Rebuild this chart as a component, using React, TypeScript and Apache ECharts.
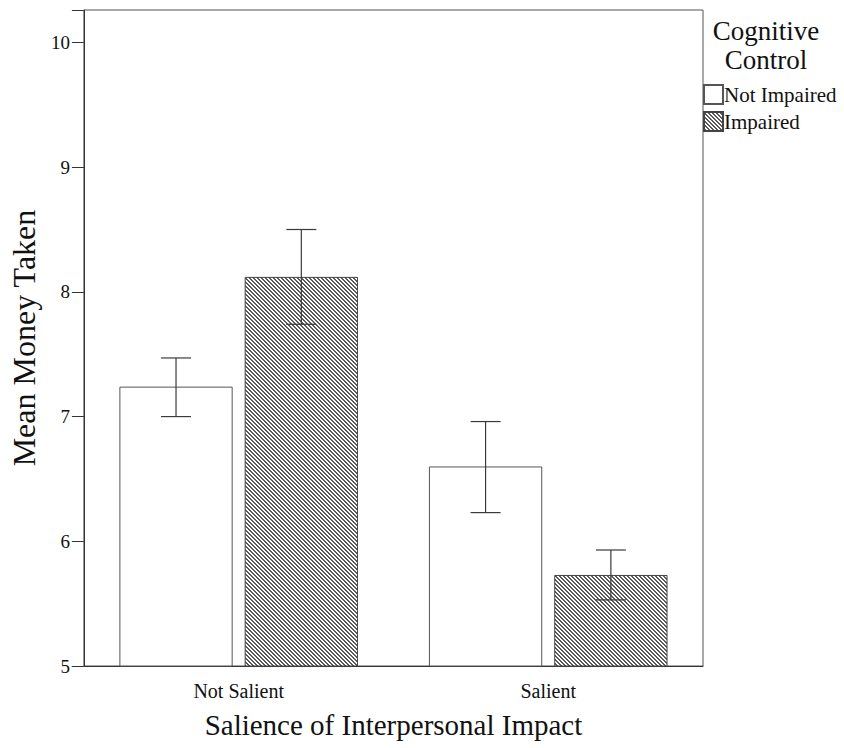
import React, { useEffect, useRef } from "react";
import * as echarts from "echarts";

const categories = ["Not Salient", "Salient"];
const seriesNames = ["Not Impaired", "Impaired"];
const meanNotImpaired = [7.24, 6.6];
const meanImpaired = [8.12, 5.73];
const ciNotImpaired = [
  [7.0, 7.47],
  [6.23, 6.96],
];
const ciImpaired = [
  [7.74, 8.5],
  [5.53, 5.93],
];
const yTicks = [5, 6, 7, 8, 9, 10];

const FONT = "Liberation Serif";
const BAR_W = 0.366;
const BAR_GAP = 0.106;

function makeHatch(): HTMLCanvasElement {
  const c = document.createElement("canvas");
  c.width = 4;
  c.height = 4;
  const ctx = c.getContext("2d")!;
  ctx.fillStyle = "#ffffff";
  ctx.fillRect(0, 0, 4, 4);
  ctx.fillStyle = "#5a5a5a";
  for (let i = 0; i < 4; i++) {
    ctx.fillRect(i, i, 1, 1);
    ctx.fillRect(i, (i + 1) % 4, 1, 1);
  }
  return c;
}

export default function App() {
  const ref = useRef<HTMLDivElement>(null);
  useEffect(() => {
    document.body.style.margin = "0";
    const chart = echarts.init(ref.current!, undefined, { renderer: "svg" });
    const hatch = makeHatch();
    const errRender = (seriesIdx: number) => (params: any, api: any) => {
      const cat = api.value(0);
      const lo = api.coord([cat, api.value(1)]);
      const hi = api.coord([cat, api.value(2)]);
      const catW = api.size([1, 0])[0];
      const bw = catW * BAR_W;
      const off = (bw + bw * BAR_GAP) / 2;
      const x = lo[0] + (seriesIdx === 0 ? -off : off);
      const cap = 15;
      const style = { stroke: "#3a3a3a", lineWidth: 1.2 };
      return {
        type: "group",
        children: [
          { type: "line", shape: { x1: x, y1: lo[1], x2: x, y2: hi[1] }, style },
          { type: "line", shape: { x1: x - cap, y1: lo[1], x2: x + cap, y2: lo[1] }, style },
          { type: "line", shape: { x1: x - cap, y1: hi[1], x2: x + cap, y2: hi[1] }, style },
        ],
      };
    };
    chart.setOption({
      animation: false,
      textStyle: { fontFamily: FONT },
      title: {
        text: "Cognitive\nControl",
        left: 761,
        top: 11,
        textAlign: "center",
        textStyle: { fontFamily: FONT, fontSize: 27, fontWeight: "normal", color: "#111", lineHeight: 29 },
      },
      legend: {
        orient: "vertical",
        left: 703,
        top: 84,
        padding: 0,
        icon: "rect",
        itemWidth: 19,
        itemHeight: 19,
        itemGap: 6,
        data: seriesNames,
        textStyle: { fontFamily: FONT, fontSize: 21, color: "#111", padding: [0, 0, 0, -4] },
      },
      grid: {
        left: 82,
        top: 10,
        right: 141,
        bottom: 82,
        show: true,
        borderColor: "#555",
        borderWidth: 1,
      },
      xAxis: {
        type: "category",
        data: categories,
        name: "Salience of Interpersonal Impact",
        nameLocation: "middle",
        nameGap: 44,
        nameTextStyle: { fontFamily: FONT, fontSize: 29, color: "#111" },
        axisLine: { lineStyle: { color: "#333", width: 1 } },
        axisTick: { alignWithLabel: true, length: 10, lineStyle: { color: "#333" } },
        axisLabel: { fontFamily: FONT, fontSize: 20, color: "#111", margin: 15 },
      },
      yAxis: {
        type: "value",
        min: 5,
        max: 10.26,
        interval: 1,
        name: "Mean Money Taken",
        nameLocation: "middle",
        nameGap: 42,
        nameTextStyle: { fontFamily: FONT, fontSize: 32, color: "#111" },
        splitLine: { show: false },
        axisLine: { show: true, lineStyle: { color: "#333", width: 1 } },
        axisTick: { show: true, length: 12, lineStyle: { color: "#333" } },
        axisLabel: {
          fontFamily: FONT,
          fontSize: 19,
          color: "#111",
          margin: 14,
          formatter: (v: number) => (yTicks.includes(v) ? String(v) : ""),
        },
      },
      series: [
        {
          name: seriesNames[0],
          type: "bar",
          data: meanNotImpaired,
          barWidth: BAR_W * 100 + "%",
          barGap: BAR_GAP * 100 + "%",
          itemStyle: { color: "#ffffff", borderColor: "#555", borderWidth: 1 },
        },
        {
          name: seriesNames[1],
          type: "bar",
          data: meanImpaired,
          barWidth: BAR_W * 100 + "%",
          barGap: BAR_GAP * 100 + "%",
          itemStyle: {
            color: { image: hatch, repeat: "repeat" } as any,
            borderColor: "#444",
            borderWidth: 1,
          },
        },
        {
          type: "custom",
          renderItem: errRender(0),
          data: ciNotImpaired.map((c, i) => [i, c[0], c[1]]),
          z: 10,
          silent: true,
        },
        {
          type: "custom",
          renderItem: errRender(1),
          data: ciImpaired.map((c, i) => [i, c[0], c[1]]),
          z: 10,
          silent: true,
        },
      ],
    });
    return () => chart.dispose();
  }, []);
  return <div ref={ref} style={{ width: 844, height: 748 }} />;
}
